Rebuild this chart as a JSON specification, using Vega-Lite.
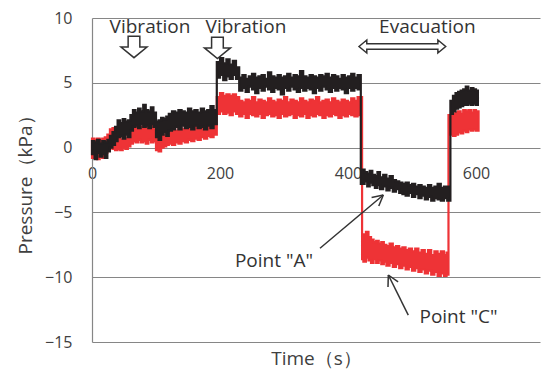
{
  "$schema": "https://vega.github.io/schema/vega-lite/v6.json",
  "width": 448,
  "height": 324,
  "autosize": {"type": "none"},
  "padding": {"left": 92, "top": 18, "right": 2, "bottom": 29},
  "background": "white",
  "config": {
    "view": {"stroke": null},
    "font": "Open Sans",
    "axis": {"labelFont": "Open Sans", "titleFont": "Open Sans", "labelColor": "#404040", "titleColor": "#404040", "titleFontWeight": "normal"}
  },
  "datasets": {
    "black": [
      {"t":0,"p":-0.5,"p2":0.5},{"t":4,"p":-0.9,"p2":0.4},{"t":8,"p":-0.4,"p2":0.6},{"t":12,"p":-0.7,"p2":0.3},{"t":16,"p":-0.5,"p2":0.5},{"t":20,"p":-0.8,"p2":0.4},{"t":24,"p":-0.3,"p2":0.6},{"t":28,"p":0.0,"p2":0.9},{"t":32,"p":0.2,"p2":1.2},{"t":36,"p":0.5,"p2":1.6},{"t":40,"p":0.8,"p2":2.1},{"t":44,"p":0.9,"p2":1.9},{"t":48,"p":0.7,"p2":2.2},{"t":52,"p":1.0,"p2":2.0},{"t":56,"p":0.8,"p2":2.1},{"t":60,"p":1.3,"p2":2.5},{"t":64,"p":1.6,"p2":2.9},{"t":68,"p":1.7,"p2":2.7},{"t":72,"p":1.5,"p2":3.0},{"t":76,"p":1.8,"p2":2.8},{"t":80,"p":1.6,"p2":3.3},{"t":84,"p":1.7,"p2":2.9},{"t":88,"p":1.5,"p2":2.8},{"t":92,"p":1.8,"p2":3.1},{"t":96,"p":1.6,"p2":2.7},{"t":100,"p":0.8,"p2":2.0},{"t":104,"p":0.6,"p2":2.1},{"t":108,"p":1.0,"p2":2.3},{"t":112,"p":1.2,"p2":2.2},{"t":116,"p":0.9,"p2":2.4},{"t":120,"p":1.3,"p2":2.6},{"t":125,"p":1.4,"p2":2.8},{"t":130,"p":1.6,"p2":2.7},{"t":135,"p":1.4,"p2":2.9},{"t":140,"p":1.7,"p2":2.8},{"t":145,"p":1.5,"p2":2.7},{"t":150,"p":1.6,"p2":3.0},{"t":155,"p":1.4,"p2":2.8},{"t":160,"p":1.7,"p2":2.9},{"t":165,"p":1.5,"p2":2.7},{"t":170,"p":1.6,"p2":3.0},{"t":175,"p":1.4,"p2":2.8},{"t":180,"p":1.7,"p2":2.9},{"t":185,"p":1.5,"p2":3.2},{"t":190,"p":1.8,"p2":2.9},
      {"t":195,"p":5.4,"p2":6.6},{"t":200,"p":5.6,"p2":6.9},{"t":205,"p":5.2,"p2":6.5},{"t":210,"p":5.5,"p2":6.8},{"t":215,"p":5.3,"p2":6.4},{"t":220,"p":5.6,"p2":6.7},{"t":225,"p":5.3,"p2":6.2},
      {"t":230,"p":4.4,"p2":5.4},{"t":235,"p":4.6,"p2":5.6},{"t":240,"p":4.3,"p2":5.3},{"t":245,"p":4.7,"p2":5.5},{"t":250,"p":4.5,"p2":5.7},{"t":255,"p":4.2,"p2":5.4},{"t":260,"p":4.6,"p2":5.5},{"t":265,"p":4.4,"p2":5.6},{"t":270,"p":4.7,"p2":5.3},{"t":275,"p":4.5,"p2":5.8},{"t":280,"p":4.3,"p2":5.5},{"t":285,"p":4.6,"p2":5.4},{"t":290,"p":4.5,"p2":5.6},{"t":295,"p":4.1,"p2":5.4},{"t":300,"p":4.6,"p2":5.5},{"t":305,"p":4.4,"p2":5.7},{"t":310,"p":4.7,"p2":5.4},{"t":315,"p":4.5,"p2":5.6},{"t":320,"p":4.3,"p2":5.5},{"t":325,"p":4.6,"p2":5.9},{"t":330,"p":4.4,"p2":5.5},{"t":335,"p":4.6,"p2":5.4},{"t":340,"p":4.5,"p2":5.6},{"t":345,"p":4.2,"p2":5.5},{"t":350,"p":4.6,"p2":5.4},{"t":355,"p":4.4,"p2":5.6},{"t":360,"p":4.7,"p2":5.5},{"t":365,"p":4.5,"p2":5.7},{"t":370,"p":4.3,"p2":5.4},{"t":375,"p":4.6,"p2":5.6},{"t":380,"p":4.4,"p2":5.5},{"t":385,"p":4.6,"p2":5.3},{"t":390,"p":4.5,"p2":5.6},{"t":395,"p":4.2,"p2":5.4},{"t":400,"p":4.6,"p2":5.5},{"t":405,"p":4.4,"p2":5.7},{"t":410,"p":4.6,"p2":5.4},{"t":415,"p":4.5,"p2":5.6},
      {"t":420,"p":-2.8,"p2":-1.7},{"t":426,"p":-2.6,"p2":-1.9},{"t":430,"p":-3.0,"p2":-2.0},{"t":434,"p":-2.7,"p2":-1.8},{"t":438,"p":-2.9,"p2":-2.1},{"t":442,"p":-3.1,"p2":-2.2},{"t":446,"p":-2.9,"p2":-1.9},{"t":450,"p":-3.2,"p2":-2.3},{"t":455,"p":-3.0,"p2":-2.1},{"t":460,"p":-3.3,"p2":-2.4},{"t":465,"p":-3.1,"p2":-2.2},{"t":470,"p":-3.4,"p2":-2.5},{"t":475,"p":-3.2,"p2":-2.6},{"t":480,"p":-3.5,"p2":-2.7},{"t":485,"p":-3.6,"p2":-2.8},{"t":490,"p":-3.7,"p2":-2.7},{"t":495,"p":-3.5,"p2":-2.9},{"t":500,"p":-3.8,"p2":-2.8},{"t":505,"p":-3.6,"p2":-3.0},{"t":510,"p":-3.9,"p2":-2.9},{"t":515,"p":-3.7,"p2":-3.0},{"t":520,"p":-4.0,"p2":-3.1},{"t":525,"p":-3.8,"p2":-2.9},{"t":530,"p":-4.1,"p2":-3.1},{"t":535,"p":-3.9,"p2":-3.0},{"t":540,"p":-4.0,"p2":-2.8},{"t":545,"p":-4.1,"p2":-3.1},{"t":550,"p":-3.9,"p2":-3.0},{"t":555,"p":-4.1,"p2":-3.0},
      {"t":560,"p":2.6,"p2":3.6},{"t":564,"p":2.8,"p2":4.0},{"t":568,"p":3.0,"p2":4.2},{"t":572,"p":3.1,"p2":4.3},{"t":576,"p":3.2,"p2":4.4},{"t":580,"p":3.3,"p2":4.5},{"t":584,"p":3.3,"p2":4.7},{"t":588,"p":3.4,"p2":4.4},{"t":592,"p":3.3,"p2":4.6},{"t":596,"p":3.4,"p2":4.5},{"t":600,"p":3.3,"p2":4.4},{"t":603,"p":3.3,"p2":4.4}
    ],
    "red": [
      {"t":0,"p":-0.8,"p2":0.7},{"t":4,"p":-0.6,"p2":0.6},{"t":8,"p":-0.9,"p2":0.7},{"t":12,"p":-0.7,"p2":0.6},{"t":16,"p":-0.8,"p2":0.7},{"t":20,"p":-0.4,"p2":0.8},{"t":24,"p":-0.2,"p2":1.0},{"t":28,"p":0.0,"p2":1.4},{"t":32,"p":-0.1,"p2":1.5},{"t":36,"p":-0.2,"p2":1.3},{"t":40,"p":-0.1,"p2":0.8},{"t":44,"p":-0.2,"p2":0.6},{"t":48,"p":0.0,"p2":0.8},{"t":52,"p":-0.1,"p2":0.7},{"t":56,"p":0.1,"p2":0.9},{"t":60,"p":0.3,"p2":1.3},{"t":64,"p":0.5,"p2":1.6},{"t":68,"p":0.4,"p2":1.7},{"t":72,"p":0.6,"p2":1.5},{"t":76,"p":0.4,"p2":1.6},{"t":80,"p":0.5,"p2":1.8},{"t":84,"p":0.3,"p2":1.6},{"t":88,"p":0.6,"p2":1.5},{"t":92,"p":0.4,"p2":1.7},{"t":96,"p":0.5,"p2":1.4},{"t":100,"p":-0.2,"p2":0.8},{"t":104,"p":-0.3,"p2":0.6},{"t":108,"p":0.0,"p2":1.0},{"t":112,"p":0.1,"p2":0.9},{"t":116,"p":0.2,"p2":1.1},{"t":120,"p":0.3,"p2":1.3},{"t":125,"p":0.2,"p2":1.4},{"t":130,"p":0.4,"p2":1.3},{"t":135,"p":0.3,"p2":1.5},{"t":140,"p":0.5,"p2":1.4},{"t":145,"p":0.4,"p2":1.6},{"t":150,"p":0.6,"p2":1.5},{"t":155,"p":0.5,"p2":1.7},{"t":160,"p":0.7,"p2":1.6},{"t":165,"p":0.6,"p2":1.8},{"t":170,"p":0.8,"p2":1.9},{"t":175,"p":0.7,"p2":1.7},{"t":180,"p":0.9,"p2":2.0},{"t":185,"p":0.8,"p2":2.1},{"t":190,"p":1.0,"p2":2.0},
      {"t":195,"p":2.6,"p2":3.9},{"t":200,"p":2.8,"p2":4.2},{"t":205,"p":2.6,"p2":4.0},{"t":210,"p":2.7,"p2":4.1},{"t":215,"p":2.5,"p2":4.0},{"t":220,"p":2.8,"p2":4.1},{"t":225,"p":2.6,"p2":3.9},
      {"t":230,"p":2.4,"p2":3.6},{"t":235,"p":2.6,"p2":3.5},{"t":240,"p":2.3,"p2":3.7},{"t":245,"p":2.6,"p2":3.6},{"t":250,"p":2.5,"p2":3.9},{"t":255,"p":2.4,"p2":3.5},{"t":260,"p":2.6,"p2":3.7},{"t":265,"p":2.3,"p2":3.6},{"t":270,"p":2.5,"p2":3.5},{"t":275,"p":2.6,"p2":3.8},{"t":280,"p":2.4,"p2":3.6},{"t":285,"p":2.5,"p2":3.5},{"t":290,"p":2.3,"p2":3.7},{"t":295,"p":2.6,"p2":3.6},{"t":300,"p":2.4,"p2":3.9},{"t":305,"p":2.5,"p2":3.5},{"t":310,"p":2.6,"p2":3.7},{"t":315,"p":2.3,"p2":3.6},{"t":320,"p":2.5,"p2":3.5},{"t":325,"p":2.4,"p2":3.8},{"t":330,"p":2.6,"p2":3.6},{"t":335,"p":2.3,"p2":3.5},{"t":340,"p":2.5,"p2":3.7},{"t":345,"p":2.4,"p2":3.6},{"t":350,"p":2.6,"p2":3.9},{"t":355,"p":2.5,"p2":3.5},{"t":360,"p":2.3,"p2":3.6},{"t":365,"p":2.5,"p2":3.7},{"t":370,"p":2.4,"p2":3.5},{"t":375,"p":2.6,"p2":3.8},{"t":380,"p":2.5,"p2":3.6},{"t":385,"p":2.3,"p2":3.5},{"t":390,"p":2.5,"p2":3.7},{"t":395,"p":2.4,"p2":3.6},{"t":400,"p":2.6,"p2":3.5},{"t":405,"p":2.5,"p2":3.8},{"t":410,"p":2.4,"p2":3.6},{"t":415,"p":2.5,"p2":3.9},
      {"t":422,"p":-8.6,"p2":-7.0},{"t":424,"p":-8.8,"p2":-6.7},{"t":428,"p":-8.5,"p2":-6.5},{"t":432,"p":-8.7,"p2":-6.9},{"t":436,"p":-8.9,"p2":-7.1},{"t":440,"p":-8.6,"p2":-7.3},{"t":444,"p":-8.9,"p2":-7.2},{"t":448,"p":-8.7,"p2":-7.4},{"t":452,"p":-9.0,"p2":-7.3},{"t":456,"p":-8.8,"p2":-7.5},{"t":460,"p":-9.1,"p2":-7.6},{"t":465,"p":-8.9,"p2":-7.4},{"t":470,"p":-9.2,"p2":-7.7},{"t":475,"p":-9.0,"p2":-7.6},{"t":480,"p":-9.3,"p2":-7.8},{"t":485,"p":-9.1,"p2":-7.7},{"t":490,"p":-9.4,"p2":-7.9},{"t":495,"p":-9.2,"p2":-7.8},{"t":500,"p":-9.5,"p2":-8.0},{"t":505,"p":-9.3,"p2":-7.8},{"t":510,"p":-9.6,"p2":-8.1},{"t":515,"p":-9.4,"p2":-7.9},{"t":520,"p":-9.7,"p2":-8.2},{"t":525,"p":-9.5,"p2":-7.9},{"t":530,"p":-9.8,"p2":-8.3},{"t":535,"p":-9.6,"p2":-8.0},{"t":540,"p":-9.9,"p2":-8.2},{"t":545,"p":-9.7,"p2":-8.0},{"t":550,"p":-9.9,"p2":-8.3},{"t":554,"p":-9.8,"p2":-8.1},
      {"t":557,"p":1.0,"p2":2.5},{"t":564,"p":0.9,"p2":2.6},{"t":568,"p":1.0,"p2":2.7},{"t":572,"p":1.2,"p2":2.8},{"t":576,"p":1.1,"p2":2.6},{"t":580,"p":1.3,"p2":2.9},{"t":584,"p":1.2,"p2":2.8},{"t":588,"p":1.4,"p2":2.9},{"t":592,"p":1.3,"p2":2.7},{"t":596,"p":1.4,"p2":2.9},{"t":600,"p":1.3,"p2":2.8},{"t":604,"p":1.3,"p2":2.8}
    ],
    "labels": [
      {"t":90.6,"p":8.84,"label":"Vibration"},
      {"t":240.6,"p":8.84,"label":"Vibration"},
      {"t":524,"p":8.84,"label":"Evacuation"},
      {"t":284.4,"p":-9.19,"label":"Point \"A\""},
      {"t":572.7,"p":-13.56,"label":"Point \"C\""}
    ],
    "arrows": [
      {"t":356.25,"p":-7.77,"t2":455.2,"p2":-3.66},
      {"t":455.2,"p":-3.66,"t2":436.9,"p2":-3.85},
      {"t":455.2,"p":-3.66,"t2":448.1,"p2":-4.51},
      {"t":494.2,"p":-12.92,"t2":463.0,"p2":-9.83},
      {"t":463.0,"p":-9.83,"t2":462.5,"p2":-10.76},
      {"t":463.0,"p":-9.83,"t2":478.3,"p2":-10.36}
    ],
    "downArrows": [
      {"t":65.6,"p":7.76},
      {"t":196,"p":7.69}
    ],
    "dblArrow": [
      {"t":484.9,"p":7.8}
    ]
  },
  "encoding": {
    "x": {
      "field": "t", "type": "quantitative",
      "scale": {"domain": [0, 700], "nice": false, "zero": false},
      "title": "Time（s）",
      "axis": {"values": [0, 200, 400, 600], "offset": -194.4, "domain": false, "ticks": false, "grid": false,
               "labelFontSize": 16, "labelPadding": 18, "labelBaseline": "top", "labelFlush": false, "labelOverlap": false,
               "titleFontSize": 19, "titleY": 217, "titleBaseline": "alphabetic"}
    },
    "y": {
      "field": "p", "type": "quantitative",
      "scale": {"domain": [-15, 10], "nice": false, "zero": false},
      "title": "Pressure（kPa）",
      "axis": {"values": [-15, -10, -5, 0, 5, 10], "domain": true, "domainColor": "#868686", "domainWidth": 1.2,
               "ticks": false, "grid": true, "gridColor": "#868686", "gridWidth": 1.2, "gridOpacity": 1,
               "labelFontSize": 16, "labelPadding": 20,
               "titleFontSize": 19, "titleX": -67, "titleY": 162, "titleAlign": "center", "titleBaseline": "middle", "titleAngle": 270}
    }
  },
  "layer": [
    {
      "data": {"name": "red"},
      "mark": {"type": "area", "interpolate": "step-after", "color": "#EE3336", "stroke": "#EE3336", "strokeWidth": 2.2},
      "encoding": {"y2": {"field": "p2"}}
    },
    {
      "data": {"name": "black"},
      "mark": {"type": "area", "interpolate": "step-after", "color": "#231F20", "stroke": "#231F20", "strokeWidth": 2.2},
      "encoding": {"y2": {"field": "p2"}}
    },
    {
      "data": {"name": "arrows"},
      "mark": {"type": "rule", "color": "#333333", "strokeWidth": 1.5},
      "encoding": {"x2": {"field": "t2"}, "y2": {"field": "p2"}}
    },
    {
      "data": {"name": "labels"},
      "mark": {"type": "text", "font": "Open Sans", "fontSize": 19, "color": "#333333", "align": "center", "baseline": "alphabetic"},
      "encoding": {"text": {"field": "label"}}
    },
    {
      "data": {"name": "downArrows"},
      "mark": {"type": "point", "shape": "M-0.45,-0.82L0.45,-0.82L0.45,0L1,0L0,0.82L-1,0L-0.45,0Z", "size": 676, "filled": true, "fill": "white", "stroke": "#333333", "strokeWidth": 1.5, "opacity": 1}
    },
    {
      "data": {"name": "dblArrow"},
      "mark": {"type": "point", "shape": "M-1,0L-0.82,-0.15L-0.82,-0.065L0.82,-0.065L0.82,-0.15L1,0L0.82,0.15L0.82,0.065L-0.82,0.065L-0.82,0.15Z", "size": 7517, "filled": true, "fill": "white", "stroke": "#333333", "strokeWidth": 1.5, "opacity": 1}
    }
  ]
}
